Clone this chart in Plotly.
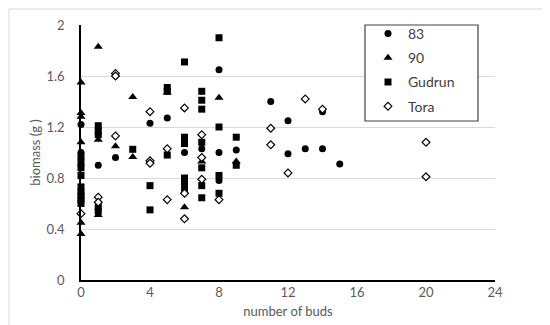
import plotly.graph_objects as go

# ---- data ----
x_83 = [0, 0, 1, 2, 4, 5, 6, 7, 8, 8, 8, 9, 11, 12, 12, 13, 14, 14, 15]
y_83 = [1.22, 1.0, 0.9, 0.96, 1.23, 1.27, 1.0, 1.03, 1.65, 1.0, 0.78, 1.02, 1.40, 1.25, 0.99, 1.03, 1.32, 1.03, 0.91]

x_90 = [0, 0, 0, 0, 0, 0, 1, 1, 1, 2, 3, 3, 5, 6, 7, 8, 9]
y_90 = [1.55, 1.31, 1.28, 1.08, 0.45, 0.36, 1.83, 1.10, 0.51, 1.05, 1.435, 0.965, 1.47, 0.57, 0.93, 1.43, 0.93]

x_gudrun = [0, 0, 0, 0, 0, 0, 0, 0, 0,
            1, 1, 1, 1, 1,
            3, 4, 4, 5, 5, 5,
            6, 6, 6, 6, 6, 6,
            7, 7, 7, 7, 7, 7, 7,
            8, 8, 8, 8, 9, 9]
y_gudrun = [0.97, 0.92, 0.88, 0.82, 0.73, 0.69, 0.66, 0.63, 0.60,
            1.21, 1.17, 1.14, 0.57, 0.54,
            1.025, 0.74, 0.55, 1.51, 1.48, 0.98,
            1.71, 1.12, 1.07, 0.80, 0.76, 0.72,
            1.48, 1.41, 1.34, 1.08, 0.88, 0.74, 0.645,
            1.90, 1.20, 0.82, 0.68, 1.12, 0.90]

x_tora = [0, 1, 1, 2, 2, 2, 4, 4, 4, 5, 5, 6, 6, 6, 7, 7, 7, 8, 11, 11, 12, 13, 14, 20, 20]
y_tora = [0.52, 0.65, 0.61, 1.62, 1.60, 1.13, 1.32, 0.935, 0.915, 1.03, 0.63, 1.35, 0.68, 0.48,
          1.14, 0.96, 0.79, 0.63, 1.19, 1.06, 0.84, 1.42, 1.34, 1.08, 0.81]

x_ticks = [0, 4, 8, 12, 16, 20, 24]
y_ticks = [0, 0.4, 0.8, 1.2, 1.6, 2]
y_tick_labels = ["0", "0.4", "0.8", "1.2", "1.6", "2"]

# ---- layout geometry (pixels) ----
W, H = 550, 325
L, R, T, B = 73, 63, 17, 53
pw, ph = W - L - R, H - T - B


def px_x(p):
    return (p - L) / pw


def px_y(q):
    return (H - B - q) / ph


FONT = "Lato, 'Open Sans', sans-serif"
GREY = "#595959"

fig = go.Figure()
fig.add_trace(go.Scatter(x=x_83, y=y_83, mode="markers", name="83", legendgroup="a",
                         marker=dict(symbol="circle", size=7, color="black"), cliponaxis=False))
fig.add_trace(go.Scatter(x=x_90, y=y_90, mode="markers", name="90", legendgroup="b",
                         marker=dict(symbol="triangle-up", size=8, color="black"), cliponaxis=False))
fig.add_trace(go.Scatter(x=x_gudrun, y=y_gudrun, mode="markers", name="Gudrun", legendgroup="c",
                         marker=dict(symbol="square", size=7, color="black"), cliponaxis=False))
fig.add_trace(go.Scatter(x=x_tora, y=y_tora, mode="markers", name="Tora", legendgroup="d",
                         marker=dict(symbol="diamond", size=6, color="white",
                                     line=dict(color="black", width=1.2)), cliponaxis=False))

fig.update_layout(
    width=W, height=H,
    margin=dict(l=L, r=R, t=T, b=B, autoexpand=False),
    paper_bgcolor="white", plot_bgcolor="white",
    font=dict(family=FONT, size=13, color=GREY),
    showlegend=True,
    legend=dict(x=px_x(360), y=px_y(10), xanchor="left", yanchor="top",
                bgcolor="rgba(0,0,0,0)", borderwidth=0,
                font=dict(family=FONT, size=14, color="#404040"),
                tracegroupgap=3, traceorder="grouped"),
    xaxis=dict(range=[0, 24], tickvals=x_ticks, ticktext=[str(v) for v in x_ticks],
               showgrid=False, zeroline=False, showline=True, linecolor="black", linewidth=1.5,
               ticks="",
               title=dict(text="number of buds", font=dict(size=13, color=GREY), standoff=8),
               tickfont=dict(size=13, color=GREY)),
    yaxis=dict(range=[0, 2], tickvals=y_ticks, ticktext=y_tick_labels,
               showgrid=True, gridcolor="#d9d9d9", gridwidth=1, zeroline=False,
               showline=True, linecolor="black", linewidth=1.5, ticks="", ticklabelstandoff=12,
               title=dict(text="biomass (g )", font=dict(size=13, color=GREY), standoff=3),
               tickfont=dict(size=13, color=GREY)),
    shapes=[
        # legend box (white, hides points underneath)
        dict(type="rect", xref="paper", yref="paper", layer="above",
             x0=px_x(357), x1=px_x(470), y0=px_y(113), y1=px_y(17),
             fillcolor="white", line=dict(color="#404040", width=1.2)),
        # outer chart border
        dict(type="rect", xref="paper", yref="paper", layer="below",
             x0=px_x(1), x1=px_x(549), y0=px_y(324), y1=px_y(1),
             fillcolor="rgba(0,0,0,0)", line=dict(color="#d9d9d9", width=1)),
    ],
)

fig.write_html("out.html")
